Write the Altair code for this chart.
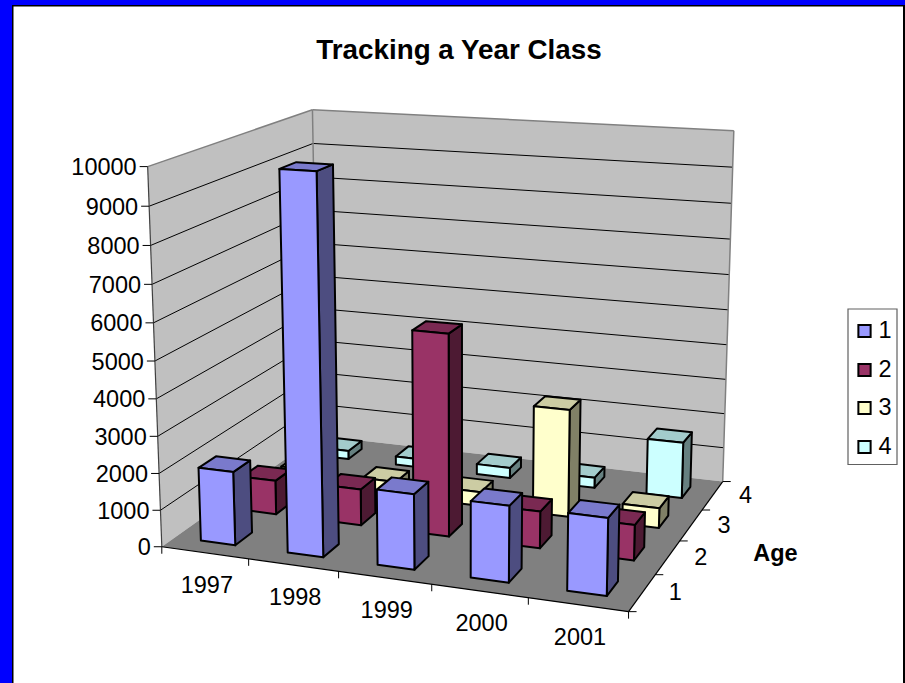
import altair as alt
import numpy as np

# Survivors by survey year and age class
years = ["1997", "1998", "1999", "2000", "2001"]
ages = ["1", "2", "3", "4"]
age1 = [2000, 10000, 2000, 2000, 2000]
age2 = [950, 1000, 5500, 1000, 950]
age3 = [450, 400, 400, 3000, 550]
age4 = [250, 250, 300, 300, 1600]
series = [age1, age2, age3, age4]
y_ticks = list(range(0, 10001, 1000))

# Face shades per age class: front, side, top
front = ["#9999FF", "#993366", "#FFFFCC", "#CCFFFF"]
side = ["#4D4D80", "#4D1A33", "#808066", "#668080"]
top = ["#7A7ACC", "#7A2952", "#CCCCA3", "#A3CCCC"]

W, H = 905, 683
FONT = "Liberation Sans"
LABEL_SIZE = 23.5
Y_MAX = 10000.0
BAR_START, BAR_END = 0.3, 0.7

# Camera: box corners (year, depth, height fraction) and where they land on screen
box = [(0, 0, 0), (5, 0, 0), (5, 4, 0), (0, 0, 1), (0, 4, 1), (5, 4, 1)]
screen = [(162, 547), (628, 612), (723, 481), (148, 166), (312, 110), (734, 131)]
rows, rhs = [], []
for (a, b, c), (sx, sy) in zip(box, screen):
    rows.append([a, b, c, 1, 0, 0, 0, 0, -sx * a, -sx * b, -sx * c])
    rhs.append(sx)
    rows.append([0, 0, 0, 0, a, b, c, 1, -sy * a, -sy * b, -sy * c])
    rhs.append(sy)
cam = np.append(np.linalg.lstsq(np.array(rows, float), np.array(rhs, float), rcond=None)[0], 1).reshape(3, 4)


def project(u, v, value=0.0):
    p = cam @ np.array([u, v, value / Y_MAX, 1.0])
    return [float(p[0] / p[2]), float(p[1] / p[2])]


def polygon(points, fill, stroke="none", sw=0):
    ring = points + [points[0]]
    return {"type": "Feature", "geometry": {"type": "Polygon", "coordinates": [ring]},
            "properties": {"fill": fill, "stroke": stroke, "sw": sw}}


def line(a, b, stroke, sw=1):
    return {"type": "Feature", "geometry": {"type": "LineString", "coordinates": [a, b]},
            "properties": {"stroke": stroke, "sw": sw}}


# Page frame
frame = [
    polygon([[0, 0], [W, 0], [W, 5], [0, 5]], "#0000FF"),
    polygon([[0, 0], [12, 0], [12, H], [0, H]], "#0000FF"),
    polygon([[12, 5], [W, 5], [W, 6.5], [12, 6.5]], "#000000"),
    polygon([[12, 5], [13.5, 5], [13.5, H], [12, H]], "#000000"),
    polygon([[903, 5], [W, 5], [W, H], [903, H]], "#000000"),
]

# Walls and floor
surfaces = [
    polygon([project(0, 0), project(0, 4), project(0, 4, Y_MAX), project(0, 0, Y_MAX)], "#C0C0C0"),
    polygon([project(0, 4), project(5, 4), project(5, 4, Y_MAX), project(0, 4, Y_MAX)], "#C0C0C0"),
    polygon([project(0, 0), project(5, 0), project(5, 4), project(0, 4)], "#808080"),
]

# Gridlines, box edges and tick marks
lines = []
for t in y_ticks[1:]:
    if t < Y_MAX:
        lines.append(line(project(0, 0, t), project(0, 4, t), "#000000"))
        lines.append(line(project(0, 4, t), project(5, 4, t), "#000000"))
lines += [
    line(project(0, 0, Y_MAX), project(0, 4, Y_MAX), "#808080", 1.5),
    line(project(0, 4, Y_MAX), project(5, 4, Y_MAX), "#808080", 1.5),
    line(project(0, 4), project(0, 4, Y_MAX), "#808080", 1.5),
    line(project(5, 4), project(5, 4, Y_MAX), "#808080", 1.5),
    line(project(0, 0), project(0, 0, Y_MAX), "#404040", 1.2),
    line(project(0, 0), project(5, 0), "#000000", 1.2),
    line(project(5, 0), project(5, 4), "#000000", 1.2),
]
for t in y_ticks:
    p = project(0, 0, t)
    lines.append(line([p[0] - 8, p[1]], p, "#000000"))
for i in range(len(years) + 1):
    p = project(i, 0)
    lines.append(line(p, [p[0], p[1] + 7], "#000000"))
for j in range(len(ages) + 1):
    p = project(5, j)
    lines.append(line(p, [p[0] + 8, p[1]], "#000000"))

# Bars, painted from the back row to the front row
faces = []
for a in reversed(range(len(ages))):
    for i, value in enumerate(series[a]):
        u0, u1 = i + BAR_START, i + BAR_END
        v0, v1 = a + BAR_START, a + BAR_END
        faces.append(polygon([project(u1, v0), project(u1, v1), project(u1, v1, value), project(u1, v0, value)], side[a]))
        faces.append(polygon([project(u0, v0, value), project(u1, v0, value), project(u1, v1, value), project(u0, v1, value)], top[a]))
        faces.append(polygon([project(u0, v0), project(u1, v0), project(u1, v0, value), project(u0, v0, value)], front[a]))

# Axis and legend labels
labels = []
for t in y_ticks:
    p = project(0, 0, t)
    labels.append({"px": p[0] - 11, "py": p[1] + 1.5, "text": str(t), "align": "right", "weight": "normal"})
for i, y in enumerate(years):
    p = project(i + 0.5, 0)
    labels.append({"px": p[0] + 2, "py": p[1] + 33, "text": y, "align": "center", "weight": "normal"})
for j, a in enumerate(ages):
    p = project(5, j + 0.5)
    labels.append({"px": p[0] + 33, "py": p[1] + 0.5, "text": a, "align": "center", "weight": "normal"})
labels.append({"px": 775.5, "py": 554, "text": "Age", "align": "center", "weight": "bold"})

legend_y = [331, 370, 408, 447]
legend_box = [polygon([[848, 309], [897, 309], [897, 464.5], [848, 464.5]], "#FFFFFF", "#606060", 1)]
legend_swatches = [{"px": 864.5, "py": y, "fill": c} for y, c in zip(legend_y, front)]
legend_labels = [{"px": 878.5, "py": y, "text": a} for y, a in zip(legend_y, ages)]

x_pos = alt.X("px:Q", scale=alt.Scale(domain=[0, W], range=[0, W]), axis=None)
y_pos = alt.Y("py:Q", scale=alt.Scale(domain=[0, H], range=[0, H]), axis=None)


def shapes(features, **mark):
    return alt.Chart(alt.Data(values=features)).mark_geoshape(**mark).encode(
        fill=alt.Fill("properties.fill:N", scale=None)
    ).project(type="identity", scale=1, translate=[0, 0])


frame_layer = shapes(frame, strokeWidth=0)
surface_layer = shapes(surfaces, strokeWidth=0)
line_layer = alt.Chart(alt.Data(values=lines)).mark_geoshape(filled=False).encode(
    stroke=alt.Stroke("properties.stroke:N", scale=None),
    strokeWidth=alt.StrokeWidth("properties.sw:Q", scale=None),
).project(type="identity", scale=1, translate=[0, 0])
bar_layer = shapes(faces, stroke="#000000", strokeWidth=2, strokeJoin="round")
legend_box_layer = shapes(legend_box, stroke="#606060", strokeWidth=1.2)

text_layers = [
    alt.Chart(alt.Data(values=[d for d in labels if d["align"] == al and d["weight"] == w]))
    .mark_text(font=FONT, fontSize=LABEL_SIZE, fontWeight=w, align=al, baseline="middle", color="#000000")
    .encode(x=x_pos, y=y_pos, text="text:N")
    for al, w in [("right", "normal"), ("center", "normal"), ("center", "bold")]
]
swatch_layer = alt.Chart(alt.Data(values=legend_swatches)).mark_square(
    size=150, opacity=1, stroke="#000000", strokeWidth=2, filled=True
).encode(x=x_pos, y=y_pos, fill=alt.Fill("fill:N", scale=None))
legend_text = alt.Chart(alt.Data(values=legend_labels)).mark_text(
    font=FONT, fontSize=LABEL_SIZE, align="left", baseline="middle", color="#000000"
).encode(x=x_pos, y=y_pos, text="text:N")

chart = alt.layer(
    frame_layer, surface_layer, line_layer, bar_layer, *text_layers,
    legend_box_layer, swatch_layer, legend_text,
).properties(
    width=W, height=H, padding=0, background="#FFFFFF",
    autosize=alt.AutoSizeParams(type="none"),
    title=alt.TitleParams(
        "Tracking a Year Class", font=FONT, fontSize=27.8, fontWeight="bold", color="#000000",
        anchor="middle", dx=6.5, dy=65, offset=0,
    ),
).configure_view(stroke=None)

chart.save("out.html", embed_options={"renderer": "svg", "actions": False})
